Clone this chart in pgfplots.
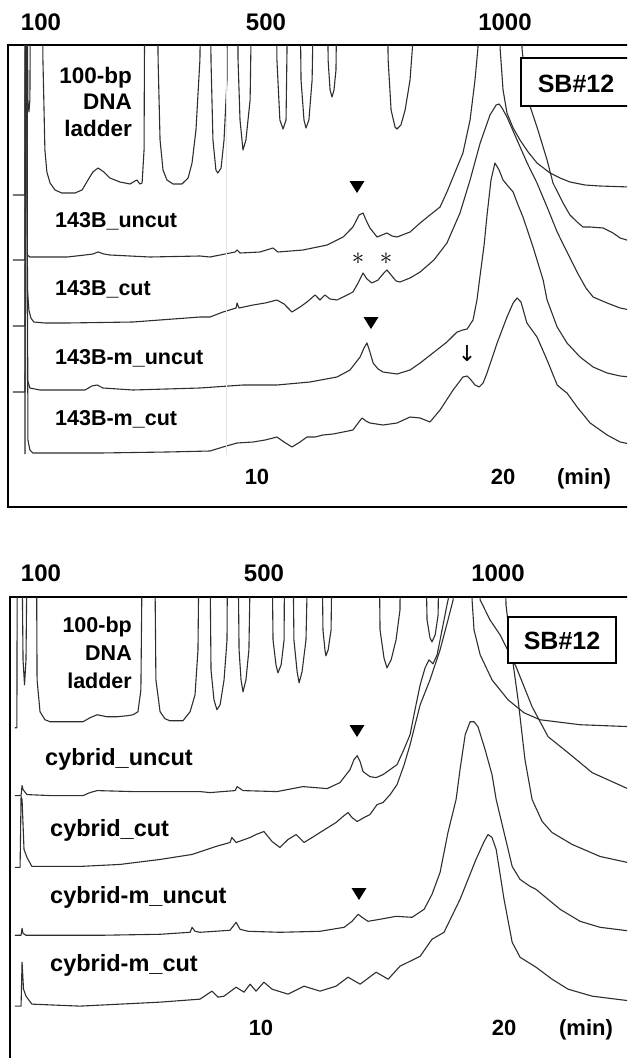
\documentclass[border=0pt]{standalone}
\usepackage{fontspec}
\setmainfont{Liberation Sans}
\newfontfamily\dejavu{DejaVu Sans}
\usepackage{pgfplots}
\pgfplotsset{compat=1.18}

% stacked chromatograms, y = signal (a.u.) with each trace offset, x = time (min)
\pgfplotsset{
  panel/.style={scale only axis, width=622pt, height=462pt, ymin=0,
    ticks=none, axis line style={line width=2.8pt}, clip=true},
  trace/.style={black!82, line width=1.1pt, line join=round},
}
\newcommand{\fs}[1]{\bfseries\fontsize{#1}{#1}\selectfont}

\begin{document}
\begin{tikzpicture}
\useasboundingbox (0,0) rectangle (627pt,-1058pt);
\clip (0,0) rectangle (627pt,-1058pt);

%% ---------- top panel: 143B ----------
\begin{axis}[panel, at={(8pt,-45pt)}, anchor=north west,
  xmin=-0.12, xmax=25.16, ymax=462]
% 100-bp ladder
\addplot[trace] coordinates {
(0.08,312)(0.57,312)(0.59,600)(0.63,600)(0.69,407)(0.73,395)(0.77,407)(0.81,600)
(1.26,600)(1.30,447)(1.38,357)(1.46,335)(1.59,324)(1.79,317)(2.07,314)(2.60,314)
(2.89,317)(3.13,327)(3.33,335)(3.54,339)(3.78,335)(4.02,329)(4.43,325)(4.84,323)
(5.04,326)(5.12,327)(5.24,323)(5.33,324)(5.41,357)(5.45,600)(5.93,600)(5.98,447)
(6.06,367)(6.18,337)(6.34,327)(6.59,323)(6.95,323)(7.20,329)(7.36,344)(7.52,377)
(7.68,447)(7.76,600)(8.09,600)(8.13,447)(8.21,367)(8.33,337)(8.41,334)(8.54,339)
(8.66,367)(8.78,427)(8.82,600)(9.19,600)(9.23,447)(9.31,387)(9.43,357)(9.55,367)
(9.72,407)(9.84,600)(10.77,600)(10.81,447)(10.93,387)(11.06,378)(11.18,387)(11.30,600)
(11.71,600)(11.79,427)(11.91,387)(11.99,379)(12.11,387)(12.24,427)(12.36,600)
(12.85,600)(12.89,447)(12.97,417)(13.05,410)(13.13,417)(13.21,437)(13.29,600)
(15.24,600)(15.33,447)(15.45,397)(15.61,380)(15.69,378)(15.85,382)(16.02,397)
(16.22,427)(16.34,467)(16.38,600)(19.84,600)(19.88,459)(20.00,417)(20.16,394)
(20.41,379)(20.69,367)(21.02,355)(21.38,344)(21.91,334)(22.32,329)(22.72,325)
(23.33,322)(23.94,321)(25.16,320)};
% 143B_uncut
\addplot[trace] coordinates {
(0.08,247)(0.57,247)(0.59,600)(0.63,600)(0.67,252)(0.77,250)(1.38,250)(2.28,250)
(3.01,252)(3.33,253)(3.54,255)(3.78,253)(4.02,252)(5.65,250)(7.68,251)(8.09,250)
(9.11,255)(9.19,257)(9.31,254)(10.12,255)(10.65,259)(10.85,255)(11.87,257)
(12.85,262)(13.50,270)(13.90,280)(14.15,292)(14.31,294)(14.43,287)(14.59,279)
(14.88,270)(15.08,272)(15.28,274)(15.49,271)(15.69,270)(16.22,275)(16.63,284)
(17.03,292)(17.44,300)(17.72,315)(17.97,330)(18.37,354)(18.66,387)(18.86,427)
(18.98,459)(19.07,600)(20.69,600)(20.77,459)(20.97,410)(21.38,380)(21.79,347)
(22.03,324)(22.44,304)(22.72,292)(23.01,285)(23.25,280)(23.54,280)(24.07,279)
(24.47,274)(24.76,269)(25.16,266)};
% 143B_cut
\addplot[trace] coordinates {
(0.08,181)(0.57,181)(0.59,600)(0.63,600)(0.67,217)(0.73,197)(0.81,189)(0.93,185)
(1.38,184)(2.28,184)(4.96,185)(7.68,190)(8.09,190)(8.62,195)(9.15,199)(9.19,204)
(9.27,199)(9.84,202)(10.33,204)(10.81,207)(11.10,203)(11.42,195)(11.75,200)
(12.03,205)(12.36,212)(12.56,207)(12.76,212)(12.97,208)(13.25,207)(13.58,211)
(13.90,215)(14.11,224)(14.31,234)(14.47,228)(14.67,224)(14.92,227)(15.12,233)
(15.28,237)(15.45,232)(15.65,226)(15.81,225)(16.22,229)(16.63,235)(17.19,247)
(17.72,264)(18.25,294)(18.66,327)(19.07,364)(19.47,392)(19.72,402)(19.84,403)
(19.96,399)(20.16,390)(20.57,367)(20.98,344)(21.38,324)(21.79,300)(22.20,275)
(22.60,255)(23.05,233)(23.37,219)(23.66,210)(24.23,204)(24.76,199)(25.16,197)};
% 143B-m_uncut
\addplot[trace] coordinates {
(0.08,115)(0.57,115)(0.59,600)(0.63,600)(0.67,127)(0.77,119)(1.18,117)(3.01,117)
(3.29,121)(3.50,122)(3.74,119)(4.96,117)(7.68,119)(9.43,122)(10.81,122)(12.15,125)
(13.25,130)(13.78,137)(14.19,150)(14.35,159)(14.47,164)(14.59,155)(14.72,144)
(14.92,138)(15.12,135)(15.69,133)(16.22,137)(16.63,144)(17.15,154)(17.72,165)
(18.13,175)(18.37,177)(18.54,178)(18.78,187)(18.94,207)(19.07,232)(19.23,262)
(19.35,292)(19.51,327)(19.67,344)(19.84,337)(20.00,327)(20.20,321)(20.41,315)
(20.61,302)(20.81,290)(21.22,260)(21.63,227)(21.79,207)(22.20,180)(22.60,164)
(23.13,150)(23.66,140)(24.23,134)(24.76,131)(25.16,130)};
% 143B-m_cut
\addplot[trace] coordinates {
(0.57,53)(0.59,600)(0.63,600)(0.69,67)(0.77,57)(0.89,54)(3.62,54)(6.34,55)
(8.09,56)(8.62,60)(9.19,64)(9.84,65)(10.33,67)(10.81,70)(11.10,65)(11.42,60)
(11.75,65)(12.03,70)(12.36,70)(12.68,72)(13.09,73)(13.50,75)(13.90,77)(14.11,84)
(14.27,89)(14.43,86)(14.59,84)(15.12,82)(15.69,84)(16.22,90)(16.63,89)(17.03,85)
(17.44,97)(17.97,117)(18.37,130)(18.54,131)(18.70,127)(18.86,122)(19.03,120)
(19.19,124)(19.35,134)(19.76,164)(20.16,190)(20.41,204)(20.57,209)(20.73,205)
(20.97,184)(21.38,170)(21.79,147)(22.20,122)(22.44,117)(22.60,114)(23.01,100)
(23.54,84)(24.23,72)(24.76,65)(25.16,63)};
\end{axis}

%% ---------- bottom panel: cybrid ----------
\begin{axis}[panel, at={(10pt,-597pt)}, anchor=north west,
  xmin=-0.04, xmax=25.24, ymax=463]
% 100-bp ladder
\addplot[trace] coordinates {
(0.16,332)(0.24,332)(0.26,600)(0.41,600)(0.49,400)(0.55,375)(0.61,400)(0.69,600)
(1.02,600)(1.06,380)(1.18,348)(1.38,340)(1.59,338)(2.93,338)(3.21,342)(3.50,345)
(3.90,343)(4.31,343)(4.72,344)(4.96,345)(5.16,348)(5.28,370)(5.37,600)(5.81,600)
(5.89,380)(6.06,348)(6.26,341)(6.46,339)(6.99,339)(7.28,348)(7.48,365)(7.60,410)
(7.68,600)(8.05,600)(8.13,390)(8.25,360)(8.37,350)(8.50,355)(8.66,380)(8.78,420)
(8.82,600)(9.19,600)(9.27,410)(9.35,380)(9.43,368)(9.55,380)(9.67,410)(9.80,600)
(10.57,600)(10.65,420)(10.77,395)(10.85,387)(10.98,395)(11.10,420)(11.14,600)
(11.42,600)(11.50,420)(11.63,388)(11.71,377)(11.83,388)(11.99,420)(12.15,600)
(12.60,600)(12.68,430)(12.76,410)(12.80,404)(12.89,410)(13.01,430)(13.09,600)
(14.92,600)(15.00,430)(15.16,402)(15.28,392)(15.45,400)(15.65,420)(15.81,450)
(15.85,600)(16.79,600)(16.91,440)(17.03,422)(17.11,418)(17.24,425)(17.36,445)
(17.44,600)(18.66,600)(18.74,460)(18.82,430)(19.07,405)(19.55,380)(20.20,360)
(20.85,347)(21.50,340)(23.13,335)(25.24,333)};
% cybrid_uncut
\addplot[trace] coordinates {
(0.16,264)(0.41,264)(0.45,274)(0.49,270)(0.65,265)(1.59,264)(2.93,264)(3.21,267)
(3.50,269)(4.96,268)(7.68,268)(8.09,267)(9.11,269)(9.19,273)(9.43,269)(10.81,268)
(11.87,273)(12.85,271)(13.37,277)(13.78,290)(13.94,300)(14.07,304)(14.19,298)
(14.31,288)(14.59,283)(14.84,282)(15.12,285)(15.69,295)(15.93,308)(16.22,325)
(16.42,350)(16.63,375)(16.83,392)(16.99,400)(17.15,396)(17.32,405)(17.52,430)
(17.72,455)(17.85,470)(17.93,600)(18.98,600)(19.07,460)(19.47,440)(19.88,425)
(20.53,393)(21.18,353)(21.83,323)(22.64,307)(23.62,287)(25.24,269)};
% cybrid_cut
\addplot[trace] coordinates {
(0.16,192)(0.37,192)(0.41,263)(0.45,260)(0.53,210)(0.65,202)(0.85,193)(2.80,193)
(4.43,195)(6.06,200)(7.36,205)(8.33,213)(8.90,217)(8.98,222)(9.15,217)(9.72,222)
(9.96,225)(10.28,228)(10.61,218)(10.93,212)(11.26,220)(11.59,225)(11.91,217)
(12.24,222)(12.56,227)(13.21,237)(13.54,244)(13.70,247)(13.86,242)(14.07,238)
(14.35,242)(14.59,245)(14.88,255)(15.12,257)(15.41,265)(15.69,275)(15.98,295)
(16.22,315)(16.63,355)(17.03,380)(17.44,410)(17.76,440)(17.97,460)(18.09,600)
(20.00,600)(20.12,455)(20.33,410)(20.61,360)(20.89,300)(21.18,260)(21.59,238)
(21.99,227)(22.81,215)(23.94,203)(25.24,196)};
% cybrid-m_uncut
\addplot[trace] coordinates {
(0.16,124)(0.41,124)(0.45,131)(0.49,126)(0.61,124)(3.62,124)(6.06,125)(7.28,127)
(7.36,132)(7.48,128)(7.68,127)(8.90,129)(9.15,137)(9.31,130)(9.64,128)(10.93,127)
(12.56,128)(13.54,132)(13.86,138)(14.11,145)(14.27,142)(14.51,138)(14.99,140)
(15.65,143)(16.30,142)(16.79,150)(17.11,165)(17.44,187)(17.76,227)(18.09,260)
(18.25,290)(18.46,325)(18.66,338)(18.82,338)(18.98,333)(19.27,310)(19.55,285)
(19.72,260)(20.04,227)(20.37,193)(20.69,180)(21.10,173)(21.34,170)(21.83,160)
(22.32,150)(23.13,138)(23.94,132)(25.24,128)};
% cybrid-m_cut
\addplot[trace] coordinates {
(0.16,53)(0.41,53)(0.45,97)(0.51,70)(0.61,63)(0.85,55)(2.80,53)(6.06,57)(7.68,60)
(8.17,68)(8.42,62)(8.66,63)(9.15,72)(9.47,67)(9.72,75)(9.96,68)(10.28,77)(10.61,70)
(11.26,65)(11.91,73)(12.56,68)(13.21,73)(13.70,82)(14.19,75)(14.84,87)(15.33,80)
(15.81,93)(16.63,103)(17.11,120)(17.60,127)(18.25,160)(18.90,200)(19.23,218)
(19.39,225)(19.55,222)(19.72,210)(20.04,160)(20.37,117)(20.69,102)(21.34,92)
(21.99,80)(22.64,70)(23.62,63)(25.24,58)};
\end{axis}

%% ---------- text and markers (pixel layout, y downwards) ----------
\begin{scope}[x=1pt,y=-1pt]
\tikzset{lab/.style={anchor=base west, inner sep=0pt, font=\fs{21.5}},
  labb/.style={anchor=base west, inner sep=0pt, font=\fs{23.5}},
  top/.style={anchor=base, inner sep=0pt, font=\fs{24}},
  bot/.style={anchor=base, inner sep=0pt, font=\fs{22}},
  lad/.style={anchor=base east, inner sep=0pt, font=\fs{22.5}}}
% faint scanner line
\draw[black!10, line width=0.8pt] (226,48) -- (226,455);
% top panel
\node[top] at (41,30) {100};
\node[top] at (266,30) {500};
\node[top] at (505,30) {1000};
\node[lad] at (132,83) {100-bp};
\node[lad] at (132,109) {DNA};
\node[lad] at (132,136) {ladder};
\node[lab] at (55,227) {143B\_uncut};
\node[lab] at (55,295) {143B\_cut};
\node[lab] at (55,364) {143B-m\_uncut};
\node[lab] at (55,425) {143B-m\_cut};
\draw[line width=2.8pt, fill=white] (521,58) rectangle (632,106);
\node[anchor=base, inner sep=0pt, font=\fs{25}] at (576,92) {SB\#12};
\fill (349.5,181) -- (364.5,181) -- (357,193) -- cycle;
\fill (363.5,317) -- (378.5,317) -- (371,329) -- cycle;
\node[font=\fontsize{26}{26}\selectfont] at (358,259) {$\ast$};
\node[font=\fontsize{26}{26}\selectfont] at (386,259) {$\ast$};
\node[font=\dejavu\fontsize{22}{22}\selectfont] at (467,354) {↓};
\node[bot] at (257,484) {10};
\node[bot] at (503,484) {20};
\node[bot] at (584,484) {(min)};
% bottom panel
\node[top] at (41,581) {100};
\node[top] at (264,581) {500};
\node[top] at (498,581) {1000};
\node[lad, font=\fs{21.5}] at (132,632) {100-bp};
\node[lad, font=\fs{21.5}] at (132,660) {DNA};
\node[lad, font=\fs{21.5}] at (132,688) {ladder};
\node[labb] at (45,765) {cybrid\_uncut};
\node[labb] at (50,836) {cybrid\_cut};
\node[labb] at (50,903) {cybrid-m\_uncut};
\node[labb] at (50,971) {cybrid-m\_cut};
\draw[line width=2.8pt, fill=white] (508,617) rectangle (616,663);
\node[anchor=base, inner sep=0pt, font=\fs{25}] at (562,649) {SB\#12};
\fill (349.5,725) -- (364.5,725) -- (357,737) -- cycle;
\fill (351.5,888) -- (366.5,888) -- (359,900) -- cycle;
\node[bot] at (261,1035) {10};
\node[bot] at (504,1035) {20};
\node[bot] at (586,1035) {(min)};
\end{scope}
\end{tikzpicture}
\end{document}
